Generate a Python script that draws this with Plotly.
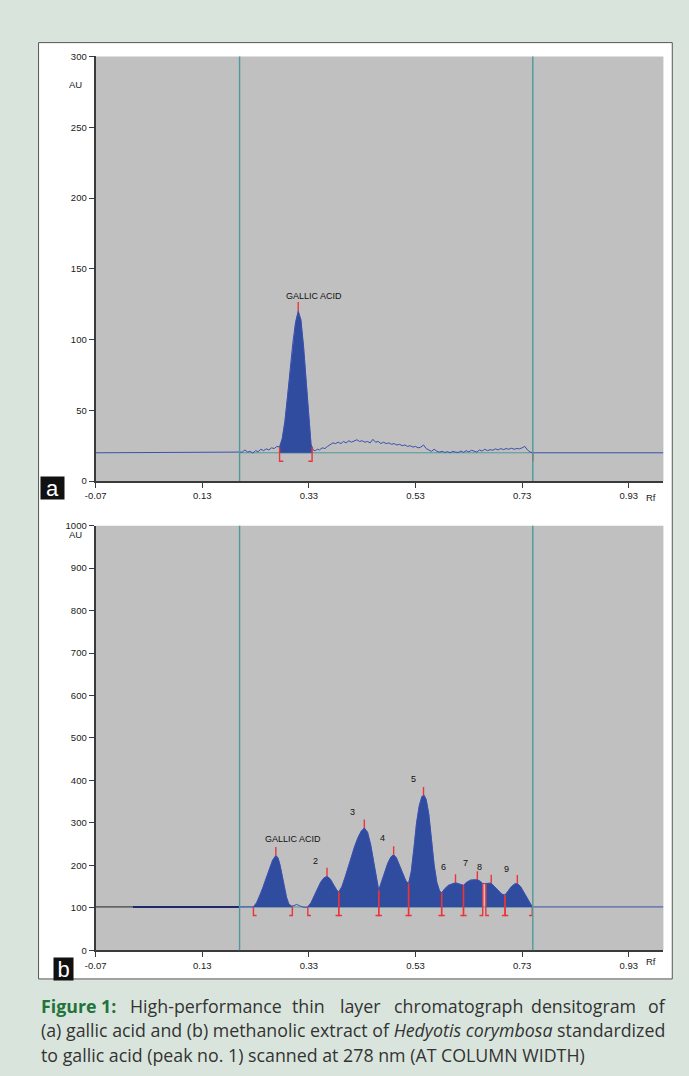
import numpy as np
import plotly.graph_objects as go

W, H = 689, 1076

# ---------------- data ----------------
x_ticks = [-0.07, 0.13, 0.33, 0.53, 0.73, 0.93]
x_ticktext = ["-0.07", "0.13", "0.33", "0.53", "0.73", "0.93"]
a_yticks = [0, 50, 100, 150, 200, 250, 300]
b_yticks = [0, 100, 200, 300, 400, 500, 600, 700, 800, 900, 1000]
scan_window = [0.20, 0.75]

# panel a densitogram (Rf, AU)
a_rf = [-0.07, 0.200, 0.205, 0.210, 0.215, 0.220, 0.225, 0.230, 0.235, 0.240, 0.245,
        0.250, 0.255, 0.260, 0.265, 0.270, 0.275, 0.280, 0.285, 0.290, 0.295,
        0.300, 0.305, 0.310, 0.315, 0.320, 0.325, 0.330, 0.334, 0.338, 0.342,
        0.346, 0.350, 0.355, 0.360, 0.365, 0.370, 0.375, 0.380, 0.385, 0.390,
        0.395, 0.400, 0.405, 0.410, 0.415, 0.420, 0.425, 0.430, 0.435, 0.440,
        0.445, 0.450, 0.455, 0.460, 0.465, 0.470, 0.475, 0.480, 0.485, 0.490,
        0.495, 0.500, 0.505, 0.510, 0.515, 0.520, 0.525, 0.530, 0.535, 0.540,
        0.545, 0.550, 0.555, 0.560, 0.565, 0.570, 0.575, 0.580, 0.585, 0.590,
        0.595, 0.600, 0.605, 0.610, 0.615, 0.620, 0.625, 0.630, 0.635, 0.640,
        0.645, 0.650, 0.655, 0.660, 0.665, 0.670, 0.675, 0.680, 0.685, 0.690,
        0.695, 0.700, 0.705, 0.710, 0.715, 0.720, 0.725, 0.730, 0.735, 0.740,
        0.745, 0.750, 0.995]
a_au = [20.0, 20.0, 20.5, 22.0, 20.5, 21.0, 19.8, 21.5, 20.8, 22.5, 21.5,
        22.8, 22.0, 23.5, 23.0, 24.5, 24.0, 30.0, 42.0, 60.0, 80.0,
        98.0, 112.0, 120.0, 114.0, 95.0, 70.0, 42.0, 26.0, 22.0, 21.5,
        22.5, 22.0, 23.5, 23.0, 24.5, 25.5, 27.0, 26.5, 27.5, 26.5,
        28.0, 27.0, 28.5, 27.5, 28.5, 29.2, 28.0, 28.5, 27.5, 28.0,
        27.0, 29.5, 27.5, 28.0, 26.5, 27.5, 26.5, 27.0, 26.0, 26.5,
        25.5, 26.0, 25.0, 25.5, 24.5, 25.0, 24.0, 24.5, 23.5, 24.0,
        25.5, 23.0, 22.0, 21.0, 22.5, 21.0, 20.5, 21.0, 20.2, 20.8,
        20.0, 21.0, 20.5, 20.2, 21.2, 20.3, 21.5, 20.6, 21.8, 21.0,
        20.5, 22.0, 21.2, 22.5, 21.5, 22.2, 21.8, 22.8, 22.0, 23.0,
        22.2, 23.0, 22.5, 23.2, 22.5, 23.0, 22.8, 23.5, 24.5, 22.0,
        20.5, 20.0, 20.0]
a_base = 20.0
a_peak_rf = [0.310]
a_peak_names = ["GALLIC ACID"]
a_label_rf = [0.340]
a_label_au = [131]
a_starts = [0.275]
a_ends = [0.336]

# panel b densitogram (Rf, AU)
b_rf = [-0.07, 0.000, 0.200, 0.226, 0.232, 0.238, 0.244, 0.250, 0.256, 0.262,
        0.268, 0.272, 0.276, 0.280, 0.284, 0.288, 0.292, 0.297, 0.302, 0.307,
        0.312, 0.318, 0.324, 0.328, 0.334, 0.340, 0.346, 0.352, 0.358, 0.364,
        0.370, 0.376, 0.382, 0.386, 0.392, 0.398, 0.404, 0.410, 0.416, 0.422,
        0.428, 0.434, 0.440, 0.446, 0.452, 0.457, 0.461, 0.466, 0.472, 0.478,
        0.484, 0.489, 0.494, 0.500, 0.506, 0.512, 0.517, 0.522, 0.527, 0.532,
        0.537, 0.542, 0.546, 0.550, 0.555, 0.560, 0.565, 0.570, 0.575, 0.579,
        0.585, 0.592, 0.599, 0.605, 0.612, 0.620, 0.626, 0.633, 0.640, 0.646,
        0.652, 0.656, 0.660, 0.666, 0.672, 0.678, 0.685, 0.692, 0.698, 0.704,
        0.710, 0.716, 0.721, 0.727, 0.734, 0.741, 0.746, 0.749, 0.995]
b_au = [102, 102, 102, 102, 112, 128, 148, 170, 192, 212,
        223, 218, 200, 175, 148, 125, 110, 104, 105, 108,
        105, 102, 101, 102, 112, 128, 145, 160, 170, 174,
        168, 155, 142, 137, 150, 172, 198, 222, 245, 265,
        280, 288, 278, 248, 205, 165, 141, 160, 185, 205,
        220, 225, 218, 198, 178, 163, 157, 185, 240, 300,
        340, 362, 365, 355, 320, 260, 200, 160, 140, 135,
        145, 153, 157, 159, 156, 153, 160, 165, 166, 166,
        162, 157, 157, 158, 158, 150, 140, 132, 130, 140,
        150, 156, 157, 150, 135, 118, 106, 102, 102]
b_base = 102.0
b_peak_rf = [0.268, 0.364, 0.434, 0.489, 0.545, 0.605, 0.646, 0.672, 0.721]
b_peak_names = ["GALLIC ACID", "2", "3", "4", "5", "6", "7", "8", "9"]
b_label_rf = [0.300, 0.343, 0.411, 0.468, 0.526, 0.583, 0.624, 0.650, 0.700]
b_label_au = [262, 211, 326, 264, 404, 197, 205, 197, 192]
b_starts = [0.226, 0.328, 0.386, 0.461, 0.517, 0.579, 0.620, 0.662, 0.698]
b_ends = [0.299, 0.386, 0.461, 0.517, 0.579, 0.620, 0.656, 0.698, 0.749]

caption_line1 = ["<b>Figure 1:</b>", "High-performance", "thin", "layer",
                 "chromatograph", "densitogram", "of"]
caption_line1_x = [28, 119, 284, 332, 387, 526, 668]
caption_line2 = "(a) gallic acid and (b) methanolic extract of <i>Hedyotis corymbosa</i> standardized"
caption_line3 = "to gallic acid (peak no. 1) scanned at 278 nm (AT COLUMN WIDTH)"

# ---------------- styling ----------------
PAGE = "#d9e5dc"
PLOTBG = "#c0c0c0"
LINE = "#3b4fb0"
FILL = "#2f4c9e"
TEAL = "#4e9a9a"
RED = "#e8363a"
AX = "#3a3a3a"
GREEN = "#22733a"
SANS = "Liberation Sans, Arial, sans-serif"
TFONT = dict(family=SANS, size=9.5, color="#1a1a1a")
CAPFONT = "Open Sans, sans-serif"
CAPSIZE = 17.8


def px(x):
    return x / W


def py(y):
    return 1 - y / H


fig = go.Figure()


def add_panel(xa, ya, rf, au, base, peaks, names, lab_rf, lab_au, starts, ends,
              tick_h, foot_d, foot_w, lead=False):
    rf = np.array(rf, float)
    au = np.array(au, float)
    # baseline inside the scan window
    fig.add_trace(go.Scatter(x=scan_window, y=[base, base], mode="lines",
                             line=dict(color=TEAL, width=1), xaxis=xa, yaxis=ya,
                             hoverinfo="skip", showlegend=False))
    # integrated peak areas
    for s, e in zip(starts, ends):
        m = (rf > s) & (rf < e)
        xs = [s] + list(rf[m]) + [e, e, s]
        ys = [np.interp(s, rf, au)] + list(au[m]) + [np.interp(e, rf, au), base, base]
        fig.add_trace(go.Scatter(x=xs, y=ys, mode="lines", fill="toself",
                                 fillcolor=FILL, line=dict(color=FILL, width=0.5),
                                 xaxis=xa, yaxis=ya, hoverinfo="skip", showlegend=False))
    # scan trace
    if lead:
        m0 = rf <= 0.0
        m1 = (rf >= 0.0) & (rf <= scan_window[0])
        m2 = rf >= scan_window[0]
        fig.add_trace(go.Scatter(x=rf[m0], y=au[m0], mode="lines",
                                 line=dict(color="#222222", width=1), xaxis=xa, yaxis=ya,
                                 hoverinfo="skip", showlegend=False))
        fig.add_trace(go.Scatter(x=rf[m1], y=au[m1], mode="lines",
                                 line=dict(color="#1f2a6e", width=2), xaxis=xa, yaxis=ya,
                                 hoverinfo="skip", showlegend=False))
        fig.add_trace(go.Scatter(x=rf[m2], y=au[m2], mode="lines",
                                 line=dict(color=LINE, width=1), xaxis=xa, yaxis=ya,
                                 hoverinfo="skip", showlegend=False))
    else:
        fig.add_trace(go.Scatter(x=rf, y=au, mode="lines",
                                 line=dict(color=LINE, width=1), xaxis=xa, yaxis=ya,
                                 hoverinfo="skip", showlegend=False))
    # red peak / boundary markers
    mx, my = [], []
    for p in peaks:
        v = np.interp(p, rf, au)
        mx += [p, p, None]
        my += [v, v + tick_h, None]
    low = base - foot_d
    for s in starts:
        v = np.interp(s, rf, au)
        mx += [s, s, s + foot_w, None]
        my += [v, low, low, None]
    for e in ends:
        v = np.interp(e, rf, au)
        mx += [e, e, e - foot_w, None]
        my += [v, low, low, None]
    fig.add_trace(go.Scatter(x=mx, y=my, mode="lines", line=dict(color=RED, width=1.4),
                             xaxis=xa, yaxis=ya, hoverinfo="skip", showlegend=False))
    for t, lx, ly in zip(names, lab_rf, lab_au):
        fig.add_annotation(x=lx, y=ly, xref=xa, yref=ya, text=t, showarrow=False,
                           font=dict(family=SANS, size=9, color="#111"))


add_panel("x", "y", a_rf, a_au, a_base, a_peak_rf, a_peak_names, a_label_rf, a_label_au,
          a_starts, a_ends, tick_h=6.5, foot_d=6, foot_w=0.007)
fig.add_trace(go.Scatter(x=[scan_window[1], scan_window[1]], y=[a_base, a_base - 6],
                         mode="lines", line=dict(color=RED, width=1.4),
                         hoverinfo="skip", showlegend=False))
add_panel("x2", "y2", b_rf, b_au, b_base, b_peak_rf, b_peak_names, b_label_rf, b_label_au,
          b_starts, b_ends, tick_h=20, foot_d=20, foot_w=0.006, lead=True)

axis_common = dict(showline=True, linecolor=AX, linewidth=2, ticks="outside", ticklen=5,
                   tickcolor=AX, tickwidth=1, showgrid=False, zeroline=False,
                   tickfont=TFONT, fixedrange=True)
xr = [-0.07, 0.995]
fig.update_layout(
    width=W, height=H, margin=dict(l=0, r=0, t=0, b=0),
    paper_bgcolor=PAGE, plot_bgcolor=PLOTBG, showlegend=False,
    xaxis=dict(domain=[px(86), px(663)], range=xr, anchor="y", tickvals=x_ticks,
               ticktext=x_ticktext, **axis_common),
    yaxis=dict(domain=[py(480), py(51)], range=[0, 300], anchor="x", tickvals=a_yticks,
               **axis_common),
    xaxis2=dict(domain=[px(86), px(663)], range=xr, anchor="y2", tickvals=x_ticks,
                ticktext=x_ticktext, **axis_common),
    yaxis2=dict(domain=[py(954), py(525)], range=[0, 1000], anchor="x2", tickvals=b_yticks,
                **axis_common),
)

# white panel, then grey plot areas on top of it
fig.add_shape(type="rect", xref="paper", yref="paper", x0=px(28), x1=px(672), y0=py(983),
              y1=py(37), fillcolor="white", line=dict(color="#555", width=1), layer="below")
for xa, ya in [("x", "y"), ("x2", "y2")]:
    fig.add_shape(type="rect", xref=xa + " domain", yref=ya + " domain", x0=0, x1=1, y0=0,
                  y1=1, fillcolor=PLOTBG, line=dict(width=0), layer="below")
    for v in scan_window:
        fig.add_shape(type="line", xref=xa, yref=ya + " domain", x0=v, x1=v, y0=0, y1=1,
                      line=dict(color=TEAL, width=1.4), layer="above")

for yy in [72, 534]:
    fig.add_annotation(x=px(57), y=py(yy), xref="paper", yref="paper", text="AU",
                       showarrow=False, font=dict(family=SANS, size=9.5, color="#1a1a1a"))
for yy in [497, 973]:
    fig.add_annotation(x=px(657), y=py(yy), xref="paper", yref="paper", text="Rf",
                       showarrow=False, font=dict(family=SANS, size=9.5, color="#1a1a1a"))

# a / b panel letters on black boxes
for lab, (x0, x1, y0, y1) in zip(["a", "b"], [(29, 52, 475, 497), (43, 62, 961, 983)]):
    fig.add_annotation(x=px(x0), y=py(y0), xref="paper", yref="paper", text=lab,
                       showarrow=False, xanchor="left", yanchor="top",
                       width=x1 - x0, height=y1 - y0, bgcolor="#111", borderpad=0,
                       align="center", valign="middle",
                       font=dict(family=SANS, size=22, color="white"))

# caption (first line spread out like justified text)
for i, (word, wx) in enumerate(zip(caption_line1, caption_line1_x)):
    fig.add_annotation(x=px(wx), y=py(1010), xref="paper", yref="paper", text=word,
                       showarrow=False, xanchor="right" if i == len(caption_line1) - 1 else "left",
                       yanchor="middle",
                       font=dict(family=CAPFONT, size=CAPSIZE,
                                 color=GREEN if i == 0 else "#333"))
for t, yy in [(caption_line2, 1035), (caption_line3, 1060)]:
    fig.add_annotation(x=px(28), y=py(yy), xref="paper", yref="paper", text=t,
                       showarrow=False, xanchor="left", yanchor="middle",
                       font=dict(family=CAPFONT, size=CAPSIZE, color="#333"))

fig.write_html("out.html", config={"displayModeBar": False},
               post_script="document.body.style.margin='0';document.body.style.overflow='hidden';")
